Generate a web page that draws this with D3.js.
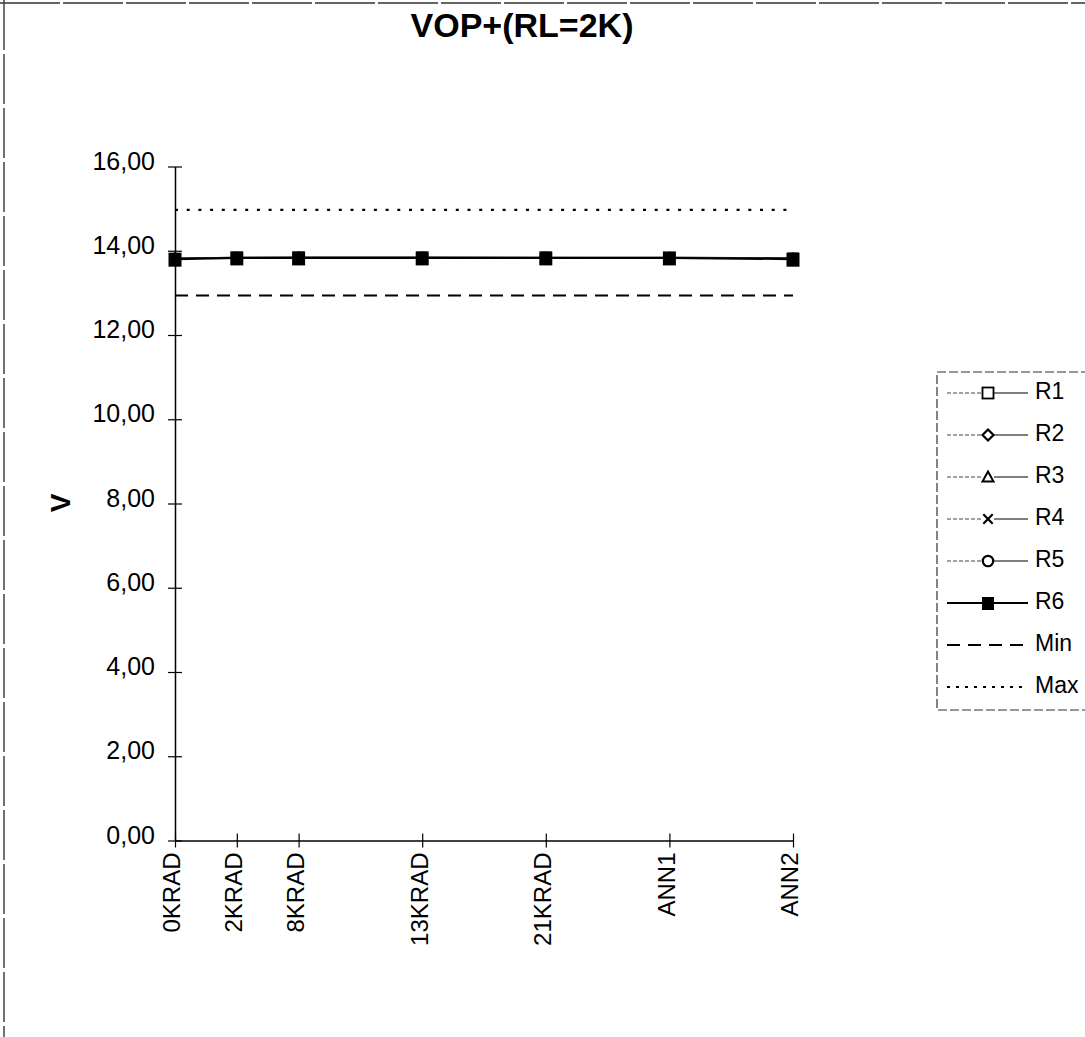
<!DOCTYPE html>
<html>
<head>
<meta charset="utf-8">
<script src="https://cdn.jsdelivr.net/npm/d3@7/dist/d3.min.js"></script>
<style>
  html, body { margin: 0; padding: 0; background: #fff; }
  svg { display: block; }
  text { font-family: "Liberation Sans", Arial, sans-serif; fill: #000; }
</style>
</head>
<body>
<script>
// Dose steps on the horizontal axis and their spacing along the axis
const doses = ["0KRAD", "2KRAD", "8KRAD", "13KRAD", "21KRAD", "ANN1", "ANN2"];
const doseStep = [0, 1, 2, 4, 6, 8, 10];

// Measured output voltage VOP+ (RL = 2K) per part
const R1 = [13.82, 13.85, 13.85, 13.85, 13.85, 13.84, 13.83];
const R2 = [13.83, 13.84, 13.85, 13.84, 13.84, 13.84, 13.82];
const R3 = [13.81, 13.83, 13.84, 13.84, 13.83, 13.83, 13.81];
const R4 = [13.82, 13.84, 13.84, 13.85, 13.84, 13.85, 13.83];
const R5 = [13.81, 13.84, 13.83, 13.83, 13.84, 13.83, 13.82];
const R6 = [13.80, 13.83, 13.83, 13.83, 13.83, 13.83, 13.80];

// Specification limits
const minLimit = 12.94;
const maxLimit = 14.97;

const seriesNames = ["R1", "R2", "R3", "R4", "R5", "R6"];
const seriesValues = [R1, R2, R3, R4, R5, R6];
const seriesSymbols = ["square", "diamond", "triangle", "cross", "circle", "filled"];

const yTicks = [0, 2, 4, 6, 8, 10, 12, 14, 16];

const W = 1085, H = 1037;
const svg = d3.select("body").append("svg").attr("width", W).attr("height", H);
svg.append("rect").attr("width", W).attr("height", H).attr("fill", "#fff");

// frame edges
svg.append("line").attr("x1", 0).attr("x2", W).attr("y1", 3).attr("y2", 3)
  .attr("stroke", "#333").attr("stroke-width", 1.5).attr("stroke-dasharray", "60,3");
svg.append("line").attr("x1", 4).attr("x2", 4).attr("y1", 0).attr("y2", H)
  .attr("stroke", "#444").attr("stroke-width", 1.5).attr("stroke-dasharray", "50,4");

const x = d3.scaleLinear().domain([0, 10]).range([175, 793]);
const y = d3.scaleLinear().domain([0, 16]).range([840.5, 166.5]);

const comma = d3.formatLocale({ decimal: ",", thousands: ".", grouping: [3], currency: ["", ""] }).format(".2f");

// title
svg.append("text").attr("x", 522).attr("y", 37).attr("text-anchor", "middle")
  .attr("font-size", 34).attr("font-weight", "bold").text("VOP+(RL=2K)");

// y axis
const yAxis = svg.append("g").attr("transform", `translate(${x(0)},0)`)
  .call(d3.axisLeft(y).tickValues(yTicks).tickFormat(comma).tickSizeOuter(0));
yAxis.select(".domain").attr("stroke", "#000").attr("stroke-width", 1.5);
yAxis.selectAll(".tick line").attr("x1", -7).attr("x2", 7).attr("stroke", "#000").attr("stroke-width", 1.2);
yAxis.selectAll(".tick text").attr("x", -20).attr("dy", "0.1em")
  .attr("font-size", 25).attr("font-family", "Liberation Sans, Arial, sans-serif").attr("fill", "#000");

// y axis title
svg.append("text").attr("transform", "translate(70,503) rotate(-90)")
  .attr("text-anchor", "middle").attr("font-size", 28).attr("font-weight", "bold").text("V");

// x axis
const xAxis = svg.append("g").attr("transform", `translate(0,${y(0)})`)
  .call(d3.axisBottom(x).tickValues(doseStep).tickFormat((d, i) => doses[i]).tickSizeOuter(0));
xAxis.select(".domain").attr("stroke", "#000").attr("stroke-width", 1.5);
xAxis.selectAll(".tick line").attr("y1", -7).attr("y2", 7).attr("stroke", "#000").attr("stroke-width", 1.2);
xAxis.selectAll(".tick text")
  .attr("transform", "translate(0,12) rotate(-90)")
  .attr("x", 0).attr("y", 0).attr("dy", "0.2em")
  .attr("text-anchor", "end")
  .attr("font-size", 24).attr("font-family", "Liberation Sans, Arial, sans-serif").attr("fill", "#000");

// limit lines
svg.append("line").attr("x1", x(0)).attr("x2", x(10)).attr("y1", y(minLimit)).attr("y2", y(minLimit))
  .attr("stroke", "#000").attr("stroke-width", 2).attr("stroke-dasharray", "13,8");
svg.append("line").attr("x1", x(0)).attr("x2", x(10)).attr("y1", y(maxLimit)).attr("y2", y(maxLimit))
  .attr("stroke", "#000").attr("stroke-width", 2.2).attr("stroke-dasharray", "3,8.7");

// marker drawing; s is the marker size in pixels
function drawMarker(g, type, cx, cy, s) {
  const h = s / 2;
  if (type === "filled") {
    g.append("rect").attr("x", cx - h).attr("y", cy - h).attr("width", s).attr("height", s + 1).attr("fill", "#000");
  } else if (type === "square") {
    g.append("rect").attr("x", cx - h).attr("y", cy - h).attr("width", s).attr("height", s)
      .attr("fill", "#fff").attr("stroke", "#000").attr("stroke-width", 1.8);
  } else if (type === "diamond") {
    g.append("path").attr("d", `M${cx},${cy - h} L${cx + h},${cy} L${cx},${cy + h} L${cx - h},${cy} Z`)
      .attr("fill", "#fff").attr("stroke", "#000").attr("stroke-width", 2.2);
  } else if (type === "triangle") {
    g.append("path").attr("d", `M${cx},${cy - h} L${cx + h},${cy + h * 0.8} L${cx - h},${cy + h * 0.8} Z`)
      .attr("fill", "#fff").attr("stroke", "#000").attr("stroke-width", 2);
  } else if (type === "cross") {
    const c = h * 0.85;
    g.append("path").attr("d", `M${cx - c},${cy - c} L${cx + c},${cy + c} M${cx + c},${cy - c} L${cx - c},${cy + c}`)
      .attr("stroke", "#000").attr("stroke-width", 2.2);
  } else if (type === "circle") {
    g.append("circle").attr("cx", cx).attr("cy", cy).attr("r", h * 0.95)
      .attr("fill", "#fff").attr("stroke", "#000").attr("stroke-width", 2.2);
  }
}

const line = d3.line().x((d, i) => x(doseStep[i])).y(d => y(d));

// series
seriesValues.forEach((vals, k) => {
  const g = svg.append("g");
  const isMain = seriesSymbols[k] === "filled";
  g.append("path").datum(vals).attr("d", line).attr("fill", "none")
    .attr("stroke", isMain ? "#000" : "#222").attr("stroke-width", isMain ? 2 : 1);
  vals.forEach((v, i) => drawMarker(g, seriesSymbols[k], x(doseStep[i]), y(v), isMain ? 13 : 9));
});

// legend
const legendItems = seriesNames.map((n, k) => ({ name: n, type: "series", sym: seriesSymbols[k] }))
  .concat([{ name: "Min", type: "min" }, { name: "Max", type: "max" }]);
const leg = svg.append("g");
leg.append("rect").attr("x", 937).attr("y", 372).attr("width", 160).attr("height", 338)
  .attr("fill", "none").attr("stroke", "#333").attr("stroke-width", 1.2).attr("stroke-dasharray", "9,3");
legendItems.forEach((it, i) => {
  const cy = 393 + i * 42;
  if (it.type === "series") {
    const main = it.sym === "filled";
    if (main) {
      leg.append("line").attr("x1", 947).attr("x2", 1028).attr("y1", cy).attr("y2", cy)
        .attr("stroke", "#000").attr("stroke-width", 2);
    } else {
      leg.append("line").attr("x1", 947).attr("x2", 982).attr("y1", cy).attr("y2", cy)
        .attr("stroke", "#444").attr("stroke-width", 1).attr("stroke-dasharray", "4,2");
      leg.append("line").attr("x1", 994).attr("x2", 1028).attr("y1", cy).attr("y2", cy)
        .attr("stroke", "#000").attr("stroke-width", 1);
    }
    drawMarker(leg, it.sym, 988, cy, main ? 12 : 11);
  } else if (it.type === "min") {
    leg.append("line").attr("x1", 947).attr("x2", 1028).attr("y1", cy).attr("y2", cy)
      .attr("stroke", "#000").attr("stroke-width", 2).attr("stroke-dasharray", "13,8");
  } else {
    leg.append("line").attr("x1", 947).attr("x2", 1028).attr("y1", cy).attr("y2", cy)
      .attr("stroke", "#000").attr("stroke-width", 2).attr("stroke-dasharray", "3,6");
  }
  leg.append("text").attr("x", 1035).attr("y", cy).attr("dy", "0.25em")
    .attr("font-size", 23).text(it.name);
});
</script>
</body>
</html>
